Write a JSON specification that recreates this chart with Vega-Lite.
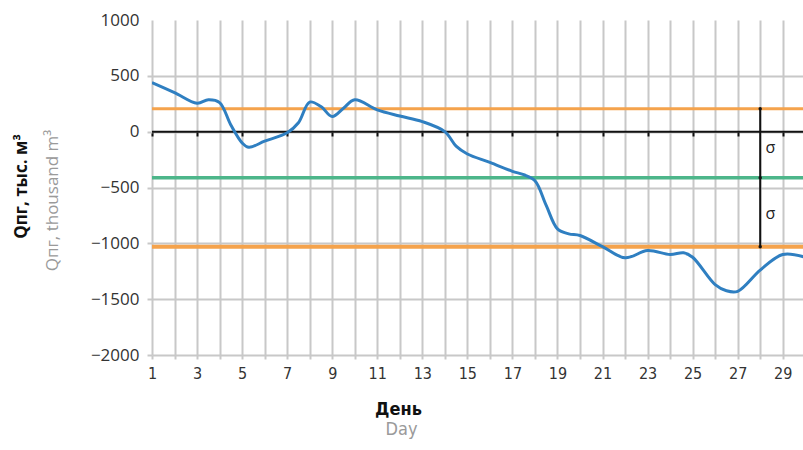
{
  "$schema": "https://vega.github.io/schema/vega-lite/v6.json",
  "width": 651,
  "height": 335,
  "autosize": {"type": "none"},
  "padding": {"left": 152, "top": 20, "right": 0, "bottom": 95},
  "background": "white",
  "config": {
    "view": {"stroke": null},
    "font": "Open Sans",
    "axis": {"labelFont": "Open Sans", "titleFont": "Open Sans"}
  },
  "datasets": {
    "flow": [
      {"day": 1, "q": 440}, {"day": 2, "q": 350}, {"day": 3, "q": 255},
      {"day": 3.5, "q": 285}, {"day": 4, "q": 260}, {"day": 4.5, "q": 60},
      {"day": 5, "q": -100}, {"day": 5.3, "q": -140}, {"day": 6, "q": -85},
      {"day": 7, "q": -10}, {"day": 7.5, "q": 80}, {"day": 8, "q": 265},
      {"day": 8.5, "q": 225}, {"day": 9, "q": 135}, {"day": 9.5, "q": 210},
      {"day": 10, "q": 285}, {"day": 11, "q": 195}, {"day": 12, "q": 140},
      {"day": 13, "q": 90}, {"day": 14, "q": 0}, {"day": 14.5, "q": -130},
      {"day": 15, "q": -200}, {"day": 16, "q": -275}, {"day": 17, "q": -355},
      {"day": 17.5, "q": -385}, {"day": 18, "q": -440}, {"day": 18.5, "q": -660},
      {"day": 19, "q": -870}, {"day": 19.5, "q": -915}, {"day": 20, "q": -930},
      {"day": 21, "q": -1030}, {"day": 22, "q": -1130}, {"day": 23, "q": -1065},
      {"day": 24, "q": -1100}, {"day": 24.6, "q": -1085}, {"day": 25, "q": -1125},
      {"day": 26, "q": -1370}, {"day": 26.5, "q": -1425}, {"day": 27, "q": -1430},
      {"day": 28, "q": -1240}, {"day": 29, "q": -1100}, {"day": 30, "q": -1125}
    ],
    "levels": [
      {"name": "mean+sigma", "v": 206},
      {"name": "mean", "v": -412},
      {"name": "mean-sigma", "v": -1030}
    ],
    "zero": [{"v": 0}],
    "bracket": [{"day": 28, "top": 206, "bottom": -1030}],
    "bracketPts": [{"day": 28, "v": 206}, {"day": 28, "v": -412}, {"day": 28, "v": -1030}],
    "sigma": [{"day": 28.45, "v": -150, "t": "σ"}, {"day": 28.45, "v": -740, "t": "σ"}]
  },
  "resolve": {"axis": {"x": "independent", "y": "independent"}},
  "layer": [
    {
      "data": {"name": "flow"},
      "mark": {"type": "line", "opacity": 0},
      "encoding": {
        "x": {
          "field": "day", "type": "quantitative",
          "scale": {"domain": [1, 29.9], "nice": false, "zero": false},
          "axis": {
            "orient": "bottom",
            "values": [1,2,3,4,5,6,7,8,9,10,11,12,13,14,15,16,17,18,19,20,21,22,23,24,25,26,27,28,29,30],
            "labelExpr": "datum.value % 2 == 1 ? datum.label : ''",
            "labelFont": "Liberation Sans Narrow, DejaVu Sans Condensed, sans-serif",
            "labelFontSize": 16, "labelColor": "#333333", "labelPadding": 6,
            "labelFlush": false, "labelOverlap": false,
            "grid": true, "gridColor": "#c8c8c8", "gridWidth": 2,
            "domain": false, "ticks": true, "tickSize": 4, "tickColor": "#c8c8c8", "tickWidth": 2,
            "title": "День",
            "titleFont": "Liberation Sans Narrow, DejaVu Sans Condensed, sans-serif",
            "titleFontSize": 18, "titleFontWeight": "bold", "titleColor": "#111111",
            "titleX": 246, "titleY": 59, "titleBaseline": "alphabetic", "titleAlign": "center"
          }
        },
        "y": {
          "field": "q", "type": "quantitative",
          "scale": {"domain": [-2000, 1000], "nice": false, "zero": false},
          "axis": {
            "orient": "left",
            "values": [-2000, -1500, -1000, -500, 0, 500, 1000],
            "format": "d",
            "labelFontSize": 17, "labelColor": "#333333", "labelPadding": 8,
            "grid": true,
            "gridColor": {"condition": {"test": "datum.value == 1000", "value": "transparent"}, "value": "#c8c8c8"},
            "gridWidth": 2,
            "domain": false, "ticks": true, "tickSize": 5,
            "tickColor": {"condition": {"test": "datum.value == 1000", "value": "transparent"}, "value": "#c8c8c8"},
            "tickWidth": 2,
            "title": "Qпг, тыс. м³",
            "titleFontSize": 17, "titleFontWeight": "bold", "titleColor": "#111111",
            "titleX": -126, "titleY": 166, "titleAngle": -90,
            "titleBaseline": "alphabetic", "titleAlign": "center"
          }
        }
      }
    },
    {
      "data": {"name": "levels"},
      "mark": {"type": "rule"},
      "encoding": {
        "y": {
          "field": "v", "type": "quantitative",
          "axis": {
            "orient": "left", "labels": false, "ticks": false, "domain": false, "grid": false,
            "title": "Qпг, thousand m³",
            "titleFontSize": 17, "titleFontWeight": "normal", "titleColor": "#9a9a9a",
            "titleX": -95, "titleY": 180, "titleAngle": -90,
            "titleBaseline": "alphabetic", "titleAlign": "center"
          }
        },
        "x": {"datum": 1, "type": "quantitative", "axis": {
            "orient": "bottom", "labels": false, "ticks": false, "domain": false, "grid": false,
            "title": "Day",
            "titleFont": "Liberation Sans Narrow, DejaVu Sans Condensed, sans-serif",
            "titleFontSize": 18, "titleFontWeight": "normal", "titleColor": "#9a9a9a",
            "titleX": 249, "titleY": 79, "titleBaseline": "alphabetic", "titleAlign": "center"
        }},
        "x2": {"datum": 29.9},
        "color": {
          "field": "name", "type": "nominal",
          "scale": {"domain": ["mean+sigma", "mean", "mean-sigma"], "range": ["#f5a34c", "#4db68a", "#f5a34c"]},
          "legend": null
        },
        "strokeWidth": {
          "field": "name", "type": "nominal",
          "scale": {"domain": ["mean+sigma", "mean", "mean-sigma"], "range": [3, 4, 3]},
          "legend": null
        }
      }
    },
    {
      "data": {"name": "zero"},
      "mark": {"type": "rule", "color": "#111111", "strokeWidth": 2},
      "encoding": {
        "y": {"field": "v", "type": "quantitative", "axis": null},
        "x": {"datum": 1, "type": "quantitative", "axis": {
            "orient": "bottom", "offset": -223,
            "values": [1,3,5,7,9,11,13,15,17,19,21,23,25,27,29],
            "labels": false, "grid": false, "domain": false, "title": null,
            "ticks": true, "tickSize": 4, "tickColor": "#111111", "tickWidth": 2
        }},
        "x2": {"datum": 29.9}
      }
    },
    {
      "data": {"name": "flow"},
      "mark": {"type": "line", "interpolate": "catmull-rom", "color": "#2f7fc1", "strokeWidth": 3, "clip": true},
      "encoding": {
        "x": {"field": "day", "type": "quantitative", "axis": null},
        "y": {"field": "q", "type": "quantitative", "axis": null}
      }
    },
    {
      "data": {"name": "bracket"},
      "mark": {"type": "rule", "color": "#111111", "strokeWidth": 2},
      "encoding": {
        "x": {"field": "day", "type": "quantitative", "axis": null},
        "y": {"field": "top", "type": "quantitative", "axis": null},
        "y2": {"field": "bottom"}
      }
    },
    {
      "data": {"name": "bracketPts"},
      "mark": {"type": "point", "filled": true, "color": "#111111", "size": 12, "opacity": 1},
      "encoding": {
        "x": {"field": "day", "type": "quantitative", "axis": null},
        "y": {"field": "v", "type": "quantitative", "axis": null}
      }
    },
    {
      "data": {"name": "sigma"},
      "mark": {"type": "text", "fontSize": 16, "color": "#222222", "align": "center", "baseline": "middle"},
      "encoding": {
        "x": {"field": "day", "type": "quantitative", "axis": null},
        "y": {"field": "v", "type": "quantitative", "axis": null},
        "text": {"field": "t"}
      }
    }
  ]
}
